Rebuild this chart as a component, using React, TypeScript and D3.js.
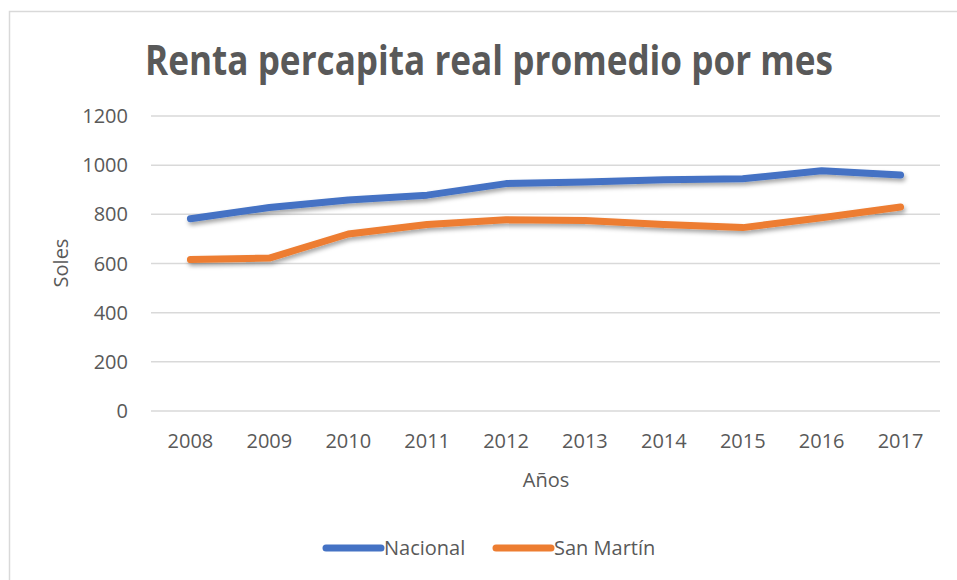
import React from 'react';
import * as d3 from 'd3';

const years = ['2008', '2009', '2010', '2011', '2012', '2013', '2014', '2015', '2016', '2017'];
const nacional = [782, 828, 858, 878, 925, 932, 941, 945, 977, 960];
const sanMartin = [616, 622, 720, 759, 778, 775, 759, 746, 786, 830];
const yTicks = [0, 200, 400, 600, 800, 1000, 1200];

const series = [
  { name: 'Nacional', values: nacional, color: '#4472C4' },
  { name: 'San Martín', values: sanMartin, color: '#ED7D31' },
];

const W = 957;
const H = 580;
const plot = { left: 151, right: 940, top: 116, bottom: 411 };
const font = "'Open Sans', 'Liberation Sans', sans-serif";
const textColor = '#595959';

export default function App() {
  const x = d3.scaleBand().domain(years).range([plot.left, plot.right]);
  const xc = (d: string) => (x(d) as number) + x.bandwidth() / 2;
  const y = d3.scaleLinear().domain([0, 1200]).range([plot.bottom, plot.top]);

  const line = d3
    .line<number>()
    .x((_, i) => xc(years[i]))
    .y((d) => y(d));

  return (
    <svg width={W} height={H} style={{ position: 'absolute', left: 0, top: 0, background: '#fff' }}>
      <defs>
        <filter id="shadow" x="-10%" y="-50%" width="120%" height="200%">
          <feDropShadow dx="1.5" dy="3" stdDeviation="2" floodColor="#000" floodOpacity="0.35" />
        </filter>
      </defs>
      <rect x={9.5} y={11.5} width={W + 20} height={H + 20} fill="#fff" stroke="#D9D9D9" strokeWidth={1.5} />

      <text
        x={489}
        y={75}
        textAnchor="middle"
        fontFamily={font}
        fontWeight="bold"
        fontSize={41}
        fill={textColor}
        textLength={688}
        lengthAdjust="spacingAndGlyphs"
      >
        Renta percapita real promedio por mes
      </text>

      {/* gridlines + y labels */}
      {yTicks.map((t) => (
        <g key={t}>
          <line x1={plot.left} x2={plot.right} y1={y(t)} y2={y(t)} stroke="#D9D9D9" strokeWidth={1.5} />
          <text x={128} y={y(t)} dy="0.35em" textAnchor="end" fontFamily={font} fontSize={20} fill={textColor}>
            {t}
          </text>
        </g>
      ))}

      {/* x labels */}
      {years.map((yr) => (
        <text key={yr} x={xc(yr)} y={448} textAnchor="middle" fontFamily={font} fontSize={20} fill={textColor}>
          {yr}
        </text>
      ))}

      <text x={546} y={487} textAnchor="middle" fontFamily={font} fontSize={20} fill={textColor}>
        Años
      </text>
      <text
        transform="translate(68,263) rotate(-90)"
        textAnchor="middle"
        fontFamily={font}
        fontSize={20}
        fill={textColor}
      >
        Soles
      </text>

      {/* series */}
      {series.map((s) => (
        <path
          key={s.name}
          d={line(s.values) as string}
          fill="none"
          stroke={s.color}
          strokeWidth={7}
          strokeLinecap="round"
          strokeLinejoin="round"
          filter="url(#shadow)"
        />
      ))}

      {/* legend */}
      {series.map((s, i) => {
        const lx = i === 0 ? 326 : 496;
        return (
          <g key={s.name}>
            <line x1={lx} x2={lx + 55} y1={548} y2={548} stroke={s.color} strokeWidth={7} strokeLinecap="round" />
            <text x={lx + 58} y={555} fontFamily={font} fontSize={20} fill={textColor}>
              {s.name}
            </text>
          </g>
        );
      })}
    </svg>
  );
}
